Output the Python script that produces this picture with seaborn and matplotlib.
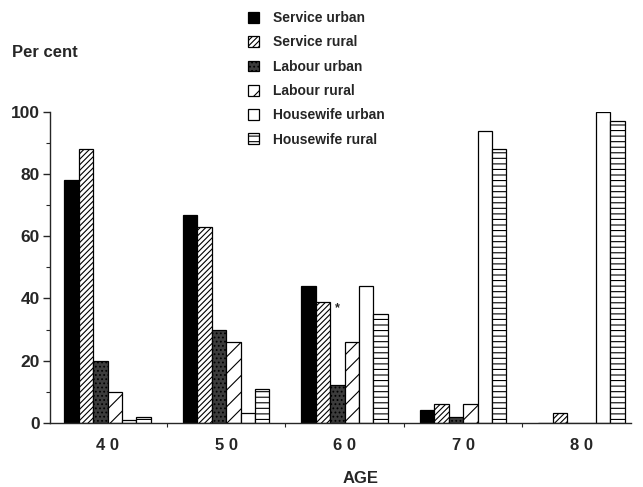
import pandas as pd
import matplotlib.pyplot as plt
import seaborn as sns
from matplotlib.ticker import MultipleLocator, FixedLocator

# Data
ages = ['40', '50', '60', '70', '80']
groups = ['Service urban', 'Service rural', 'Labour urban',
          'Labour rural', 'Housewife urban', 'Housewife rural']
service_urban = [78, 67, 44, 4, 0]
service_rural = [88, 63, 39, 6, 3]
labour_urban = [20, 30, 12, 2, 0]
labour_rural = [10, 26, 26, 6, 0]
housewife_urban = [1, 3, 44, 94, 100]
housewife_rural = [2, 11, 35, 88, 97]

series = [service_urban, service_rural, labour_urban,
          labour_rural, housewife_urban, housewife_rural]
rows = []
for g, vals in zip(groups, series):
    for a, v in zip(ages, vals):
        rows.append({'age': a, 'group': g, 'value': v})
df = pd.DataFrame(rows)

sns.set_style('ticks')
plt.rcParams['font.family'] = ['Liberation Sans', 'DejaVu Sans']
plt.rcParams['hatch.linewidth'] = 0.8

fig = plt.figure(figsize=(6.43, 4.87), dpi=100)
ax = fig.add_axes([0.077, 0.132, 0.905, 0.638])

face = ['black', 'white', '#3c3c3c', 'white', 'white', 'white']
hatch = [None, '//////', '....', '//', None, '---']

sns.barplot(data=df, x='age', y='value', hue='group', hue_order=groups,
            order=ages, width=0.73, palette=face, edgecolor='black',
            linewidth=0.9, saturation=1, legend=False, ax=ax)

for cont, fc, h in zip(ax.containers, face, hatch):
    for p in cont:
        p.set_facecolor(fc)
        p.set_edgecolor('black')
        if h:
            p.set_hatch(h)

# asterisk above labour urban bar at age 60
lu60 = ax.containers[2][2]
ax.text(lu60.get_x() + lu60.get_width() / 2, 37, '*', ha='center',
        va='center', fontsize=9, fontweight='bold')

ax.set_ylim(0, 100)
ax.set_xlim(-0.49, 4.42)
ax.yaxis.set_major_locator(MultipleLocator(20))
ax.yaxis.set_minor_locator(MultipleLocator(10))
ax.xaxis.set_minor_locator(FixedLocator([0.5, 1.5, 2.5, 3.5]))
ax.tick_params(axis='y', which='major', length=5, width=1, labelsize=12.5, pad=2)
ax.tick_params(axis='y', which='minor', length=3, width=0.8)
ax.tick_params(axis='x', which='major', length=0, pad=11, labelsize=12)
ax.tick_params(axis='x', which='minor', length=3, width=0.8)
for lab in ax.get_xticklabels() + ax.get_yticklabels():
    lab.set_fontweight('bold')
ax.set_xticklabels([' '.join(a) for a in ages])

sns.despine(ax=ax)
ax.spines['left'].set_linewidth(1)
ax.spines['bottom'].set_linewidth(1)

ax.set_xlabel('')
ax.set_ylabel('')
fig.text(0.56, 1 - 483 / 487, 'AGE', fontsize=12, fontweight='bold',
         va='baseline', ha='center')
fig.text(0.018, 0.893, 'Per cent', fontsize=12, fontweight='bold',
         va='center', ha='left')

leg = fig.legend(handles=list(ax.containers), labels=groups, loc='upper left',
                 bbox_to_anchor=(0.386, 0.977), frameon=False, fontsize=10,
                 handlelength=0.8, handleheight=0.8, handletextpad=1.0,
                 labelspacing=0.74, borderaxespad=0, borderpad=0)
for t in leg.get_texts():
    t.set_fontweight('bold')

fig.savefig('out.png', dpi=100)
